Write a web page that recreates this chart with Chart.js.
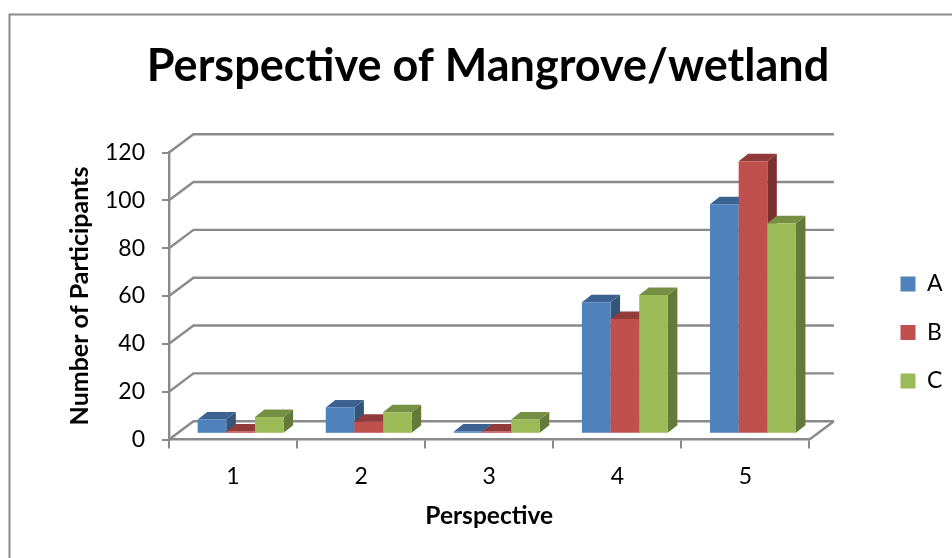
<!DOCTYPE html>
<html>
<head>
<meta charset="utf-8">
<title>Perspective of Mangrove/wetland</title>
<style>
  html, body { margin: 0; padding: 0; background: #fff; }
  canvas { display: block; }
</style>
<script src="https://cdn.jsdelivr.net/npm/chart.js@4"></script>
</head>
<body>
<canvas id="grafico" width="952" height="558"></canvas>
<script>
const categorias = ['1', '2', '3', '4', '5'];
const serieA = [6, 11, 1, 55, 96];
const serieB = [1, 5, 1, 48, 114];
const serieC = [7, 9, 6, 58, 88];

const colorGris = '#8a8a8a';
// offset of the back wall from the front plane
const paredX = 24.5;
const paredY = 18.3;
// bars stand a bit inside the floor, and have their own depth
const barraX = 7.6;
const barraY = 5.7;
const fondoX = 9.5;
const fondoY = 7.5;

function cara(ctx, puntos, color) {
  ctx.fillStyle = color;
  ctx.beginPath();
  puntos.forEach((p, i) => i ? ctx.lineTo(p[0], p[1]) : ctx.moveTo(p[0], p[1]));
  ctx.closePath();
  ctx.fill();
}

const vista3d = {
  id: 'vista3d',
  beforeDraw(chart) {
    // outer frame only shows on the top and left
    const ctx = chart.ctx;
    ctx.save();
    ctx.strokeStyle = colorGris;
    ctx.lineWidth = 2;
    ctx.beginPath();
    ctx.moveTo(9.5, 558);
    ctx.lineTo(9.5, 14.5);
    ctx.lineTo(952, 14.5);
    ctx.stroke();
    ctx.restore();
  },
  afterLayout(chart) {
    // legend and title do not follow the plot box in the original
    // legend clips to its own box, so right and bottom have to move too
    chart.legend.left = 875;
    chart.legend.right = 952;
    chart.legend.top = 247;
    chart.legend.bottom = 558;
    chart.titleBlock.left = 24;
    chart.titleBlock.right = 952;
  },
  beforeDatasetsDraw(chart) {
    const ctx = chart.ctx;
    const { x, y } = chart.scales;
    ctx.save();
    ctx.strokeStyle = colorGris;
    ctx.lineWidth = 2.4;
    y.ticks.forEach(t => {
      const py = y.getPixelForValue(t.value);
      ctx.beginPath();
      ctx.moveTo(x.left, py);
      ctx.lineTo(x.left + paredX, py - paredY);
      ctx.lineTo(x.right + paredX, py - paredY);
      ctx.stroke();
    });
    // floor edge on the right
    ctx.beginPath();
    ctx.moveTo(x.right, y.bottom);
    ctx.lineTo(x.right + paredX, y.bottom - paredY);
    ctx.stroke();

    ctx.translate(barraX, -barraY);
    chart.data.datasets.forEach((ds, i) => {
      chart.getDatasetMeta(i).data.forEach(barra => {
        const b = barra.getProps(['x', 'y', 'base', 'width'], true);
        const izq = b.x - b.width / 2;
        const der = b.x + b.width / 2;
        cara(ctx, [[der, b.y], [der + fondoX, b.y - fondoY], [der + fondoX, b.base - fondoY], [der, b.base]], ds.colorLado);
        cara(ctx, [[izq, b.y], [izq + fondoX, b.y - fondoY], [der + fondoX, b.y - fondoY], [der, b.y]], ds.colorTecho);
        barra.draw(ctx);
      });
    });
    ctx.restore();
    return false;
  }
};

new Chart(document.getElementById('grafico'), {
  type: 'bar',
  data: {
    labels: categorias,
    datasets: [
      { label: 'A', data: serieA, backgroundColor: '#4f81bd', colorTecho: '#3c6291', colorLado: '#345478' },
      { label: 'B', data: serieB, backgroundColor: '#c0504d', colorTecho: '#913c3a', colorLado: '#7b302e' },
      { label: 'C', data: serieC, backgroundColor: '#9bbb59', colorTecho: '#768f42', colorLado: '#647a38' }
    ]
  },
  options: {
    responsive: false,
    animation: false,
    events: [],
    font: { family: 'Lato' },
    layout: { padding: { left: 0, right: 65, top: 0, bottom: 0 } },
    datasets: { bar: { categoryPercentage: 0.671, barPercentage: 1 } },
    plugins: {
      tooltip: { enabled: false },
      title: {
        display: true,
        text: 'Perspective of Mangrove/wetland',
        color: '#000',
        font: { family: 'Lato', size: 45, weight: 'bold' },
        padding: { top: 39, bottom: 59.5 }
      },
      legend: {
        position: 'right',
        align: 'start',
        labels: {
          boxWidth: 15,
          boxHeight: 15,
          padding: 25.5,
          color: '#000',
          font: { family: 'Lato', size: 23 }
        }
      }
    },
    scales: {
      x: {
        afterFit(s) { s.height = 118.5; },
        grid: { drawOnChartArea: false, color: colorGris, lineWidth: 2, tickLength: 9, tickColor: colorGris },
        border: { color: colorGris, width: 2.4 },
        ticks: { color: '#000', padding: 14, font: { family: 'Lato', size: 23 }, maxRotation: 0 },
        title: {
          display: true,
          text: 'Perspective',
          color: '#000',
          font: { family: 'Lato', size: 24.5, weight: 'bold' },
          padding: { top: 0, bottom: 27 }
        }
      },
      y: {
        min: 0,
        max: 120,
        afterFit(s) { s.width = 169; },
        grid: { drawOnChartArea: false, color: colorGris, lineWidth: 2, tickLength: 7, tickColor: colorGris },
        border: { color: colorGris, width: 2.4 },
        ticks: { stepSize: 20, color: '#000', padding: 17, font: { family: 'Lato', size: 23 } },
        title: {
          display: true,
          text: 'Number of Participants',
          color: '#000',
          font: { family: 'Lato', size: 25, weight: 'bold' },
          padding: { top: 65, bottom: 0 }
        }
      }
    }
  },
  plugins: [vista3d]
});
</script>
</body>
</html>
